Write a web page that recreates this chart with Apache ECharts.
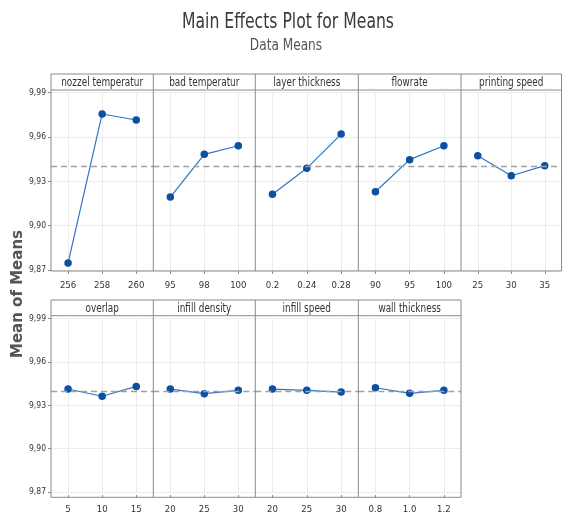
<!DOCTYPE html>
<html><head><meta charset="utf-8">
<script src="https://cdn.jsdelivr.net/npm/echarts@6/dist/echarts.min.js"></script>
<style>html,body{margin:0;padding:0;background:#fff}#c{width:562px;height:515px}</style>
</head><body><div id="c"></div>
<script>
// ---- data ----
const factorNames = ['nozzel temperatur','bad temperatur','layer thickness','flowrate','printing speed','overlap','infill density','infill speed','wall thickness'];
const levels_nozzel = ['256','258','260'];
const levels_bad = ['95','98','100'];
const levels_layer = ['0.2','0.24','0.28'];
const levels_flow = ['90','95','100'];
const levels_speed = ['25','30','35'];
const levels_overlap = ['5','10','15'];
const levels_density = ['20','25','30'];
const levels_infillspeed = ['20','25','30'];
const levels_wall = ['0.8','1.0','1.2'];
const means_nozzel = [9.8747, 9.9756, 9.9715];
const means_bad = [9.9194, 9.9483, 9.9541];
const means_layer = [9.9212, 9.9388, 9.9620];
const means_flow = [9.9230, 9.9447, 9.9541];
const means_speed = [9.9474, 9.9338, 9.9406];
const means_overlap = [9.9413, 9.9363, 9.9431];
const means_density = [9.9413, 9.9381, 9.9404];
const means_infillspeed = [9.9413, 9.9404, 9.9392];
const means_wall = [9.9422, 9.9383, 9.9404];
const grandMean = 9.9405;
const yTicks = ['9,87','9,90','9,93','9,96','9,99'];
const yMin = 9.87, yMax = 9.99, yStep = 0.03;

const levelsList = [levels_nozzel, levels_bad, levels_layer, levels_flow, levels_speed, levels_overlap, levels_density, levels_infillspeed, levels_wall];
const meansList = [means_nozzel, means_bad, means_layer, means_flow, means_speed, means_overlap, means_density, means_infillspeed, means_wall];

// ---- layout ----
const FONT = "'DejaVu Sans Condensed','Liberation Sans Narrow','Liberation Sans',sans-serif";
const rows = [
  {edges:[51,153.3,255.3,358.3,461,561.5], frameTop:74, headBot:90, plotTop:92.7, plotH:177.3, frameBot:271},
  {edges:[51,153.3,255.3,358.3,461], frameTop:300, headBot:315.7, plotTop:318.7, plotH:175.6, frameBot:497.3}
];
const panels = [];
rows.forEach((r, ri) => {
  for (let i = 0; i < r.edges.length - 1; i++) panels.push({row: ri, left: r.edges[i], right: r.edges[i+1], r});
});

const grid = [], xAxis = [], yAxis = [], series = [], graphic = [];
const frameColor = '#8a8a8a';
panels.forEach((p, k) => {
  const r = p.r;
  grid.push({left: p.left, top: r.plotTop, width: p.right - p.left, height: r.plotH, containLabel: false});
  xAxis.push({
    type: 'category', gridIndex: k, data: levelsList[k], boundaryGap: true,
    offset: r.frameBot - (r.plotTop + r.plotH),
    axisLine: {show: false},
    axisTick: {show: true, alignWithLabel: true, length: 3, lineStyle: {color: frameColor}},
    axisLabel: {fontFamily: FONT, fontSize: 9.5, color: '#333', margin: 10},
    splitLine: {show: true, alignWithLabel: true, lineStyle: {color: '#ececec', width: 1}}
  });
  const first = (k === 0 || k === 5);
  yAxis.push({
    type: 'value', gridIndex: k, min: yMin, max: yMax, interval: yStep,
    axisLine: {show: false},
    axisTick: {show: first, length: 3, lineStyle: {color: frameColor}},
    axisLabel: {show: first, fontFamily: FONT, fontSize: 8.5, color: '#333', margin: 5,
      formatter: (v) => yTicks[Math.round((v - yMin) / yStep)] || ''},
    splitLine: {show: true, lineStyle: {color: '#ececec', width: 1}}
  });
  series.push({
    type: 'line', xAxisIndex: k, yAxisIndex: k, data: meansList[k],
    symbol: 'circle', symbolSize: 7.5,
    itemStyle: {color: '#0b50a3'},
    lineStyle: {color: '#2f74c6', width: 1.2},
    animation: false,
    markLine: {
      silent: true, symbol: 'none', label: {show: false},
      lineStyle: {color: '#a0a0a0', type: [6, 4], width: 1.3},
      data: [{yAxis: grandMean}]
    },
    z: 3
  });
  // header text
  graphic.push({
    type: 'text', z: 10, x: (p.left + p.right) / 2, y: (r.frameTop + r.headBot) / 2 + 1, scaleX: 0.86,
    style: {x: 0, y: 0, text: factorNames[k],
      align: 'center', verticalAlign: 'middle', fontFamily: FONT, fontSize: 11.5, fill: '#333'}
  });
  // vertical separators
  if (k !== 0 && k !== 5) {
    graphic.push({type: 'line', z: 10, shape: {x1: p.left, y1: r.frameTop, x2: p.left, y2: r.frameBot},
      style: {stroke: frameColor, lineWidth: 1}});
  }
});
rows.forEach(r => {
  const L = r.edges[0], R = r.edges[r.edges.length - 1];
  graphic.push({type: 'rect', z: 10, shape: {x: L, y: r.frameTop, width: R - L, height: r.frameBot - r.frameTop},
    style: {fill: 'none', stroke: frameColor, lineWidth: 1}});
  graphic.push({type: 'line', z: 10, shape: {x1: L, y1: r.headBot, x2: R, y2: r.headBot},
    style: {stroke: frameColor, lineWidth: 1}});
});
graphic.push({type: 'text', z: 10, x: 288, y: 22, scaleX: 0.79,
  style: {x: 0, y: 0, text: 'Main Effects Plot for Means', align: 'center', verticalAlign: 'middle',
  fontFamily: FONT, fontSize: 22, fill: '#3a3a3a'}});
graphic.push({type: 'text', z: 10, x: 286, y: 46, scaleX: 0.9,
  style: {x: 0, y: 0, text: 'Data Means', align: 'center', verticalAlign: 'middle',
  fontFamily: FONT, fontSize: 15, fill: '#555'}});
graphic.push({type: 'text', z: 10, x: 18, y: 294, rotation: Math.PI / 2,
  style: {x: 0, y: 0, text: 'Mean of Means', align: 'center', verticalAlign: 'middle',
  fontFamily: "'DejaVu Sans',sans-serif", fontWeight: 'bold', fontSize: 15, fill: '#555'}});

const chart = echarts.init(document.getElementById('c'), null, {renderer: 'canvas'});
chart.setOption({animation: false, grid, xAxis, yAxis, series, graphic});
</script></body></html>
